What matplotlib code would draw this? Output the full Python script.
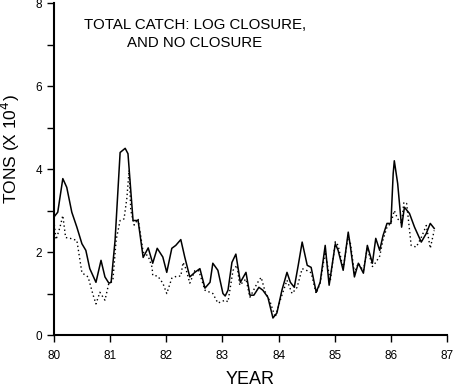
import matplotlib
matplotlib.use("Agg")
import matplotlib.pyplot as plt
from matplotlib.ticker import MultipleLocator

plt.rcParams['font.family'] = ['Liberation Sans', 'DejaVu Sans']

# Total catch with log closure (solid line)
log_years = [80.00, 80.07, 80.16, 80.23, 80.32, 80.41, 80.50, 80.57, 80.64, 80.75,
             80.84, 80.91, 80.98, 81.02, 81.09, 81.18, 81.27, 81.32, 81.41, 81.50,
             81.59, 81.68, 81.76, 81.84, 81.94, 82.01, 82.10, 82.17, 82.26, 82.33,
             82.42, 82.51, 82.60, 82.69, 82.78, 82.83, 82.92, 83.01, 83.05, 83.10,
             83.17, 83.24, 83.32, 83.42, 83.49, 83.56, 83.65, 83.72, 83.81, 83.90,
             83.97, 84.06, 84.15, 84.21, 84.28, 84.35, 84.42, 84.51, 84.58, 84.67,
             84.74, 84.83, 84.90, 85.01, 85.06, 85.15, 85.24, 85.28, 85.35, 85.42,
             85.51, 85.58, 85.67, 85.73, 85.80, 85.86, 85.93, 86.00, 86.04, 86.06,
             86.12, 86.19, 86.24, 86.33, 86.42, 86.54, 86.63, 86.70, 86.77]
log_tons = [2.84, 2.96, 3.77, 3.56, 2.96, 2.60, 2.20, 2.04, 1.60, 1.27,
            1.80, 1.40, 1.25, 1.27, 2.28, 4.40, 4.50, 4.37, 2.76, 2.76,
            1.87, 2.10, 1.73, 2.09, 1.88, 1.51, 2.09, 2.16, 2.30, 1.88,
            1.40, 1.51, 1.60, 1.13, 1.27, 1.73, 1.56, 1.00, 0.94, 1.08,
            1.75, 1.95, 1.27, 1.51, 0.96, 0.96, 1.15, 1.08, 0.91, 0.41,
            0.53, 1.08, 1.51, 1.27, 1.15, 1.68, 2.24, 1.68, 1.63, 1.03,
            1.27, 2.16, 1.20, 2.20, 2.04, 1.56, 2.48, 2.12, 1.40, 1.73,
            1.49, 2.16, 1.73, 2.33, 2.04, 2.40, 2.69, 2.69, 3.89, 4.20,
            3.65, 2.60, 3.08, 2.93, 2.60, 2.24, 2.45, 2.69, 2.57]

# Total catch with no closure (dotted line)
no_years = [80.00, 80.04, 80.11, 80.16, 80.21, 80.29, 80.41, 80.50, 80.61, 80.70,
            80.75, 80.82, 80.91, 80.98, 81.05, 81.11, 81.18, 81.25, 81.30, 81.34,
            81.37, 81.43, 81.50, 81.59, 81.68, 81.75, 81.76, 81.85, 81.94, 82.01,
            82.10, 82.19, 82.26, 82.30, 82.35, 82.42, 82.51, 82.58, 82.69, 82.83,
            82.92, 83.05, 83.10, 83.19, 83.26, 83.31, 83.42, 83.49, 83.62, 83.69,
            83.76, 83.85, 83.94, 84.03, 84.15, 84.24, 84.33, 84.42, 84.51, 84.58,
            84.67, 84.74, 84.83, 84.92, 85.01, 85.06, 85.15, 85.24, 85.28, 85.35,
            85.42, 85.51, 85.58, 85.67, 85.73, 85.80, 85.86, 85.93, 86.00, 86.06,
            86.12, 86.19, 86.23, 86.28, 86.36, 86.45, 86.54, 86.63, 86.70, 86.77]
no_tons = [2.76, 2.30, 2.60, 2.88, 2.35, 2.33, 2.28, 1.50, 1.40, 0.96,
           0.75, 1.03, 0.84, 1.25, 1.30, 2.30, 2.76, 2.80, 3.30, 3.97,
           3.00, 2.65, 2.80, 2.00, 1.90, 1.63, 1.44, 1.42, 1.25, 1.00,
           1.37, 1.42, 1.42, 1.75, 1.60, 1.25, 1.55, 1.55, 1.08, 1.00,
           0.77, 0.84, 0.80, 1.56, 1.68, 1.20, 1.35, 0.91, 1.25, 1.39,
           1.05, 0.80, 0.43, 0.84, 1.32, 1.00, 1.15, 1.60, 1.55, 1.50,
           1.00, 1.25, 2.00, 1.30, 2.25, 2.16, 1.60, 2.40, 2.20, 1.50,
           1.73, 1.55, 2.10, 1.65, 1.75, 1.90, 2.30, 2.60, 2.70, 3.00,
           2.80, 2.70, 3.20, 3.17, 2.16, 2.12, 2.35, 2.64, 2.09, 2.52]

year_ticks = [80, 81, 82, 83, 84, 85, 86, 87]

fig = plt.figure(figsize=(4.6, 3.9), dpi=100)
ax = fig.add_axes([0.117, 0.141, 0.855, 0.851])

ax.plot(log_years, log_tons, color='black', linewidth=1.1, linestyle='-')
ax.plot(no_years, no_tons, color='black', linewidth=1.0, linestyle=(0, (1, 2)))

ax.set_xlim(80, 87)
ax.set_ylim(0, 8)
ax.set_xticks(year_ticks)
ax.set_xticklabels([str(y) for y in year_ticks])
ax.yaxis.set_major_locator(MultipleLocator(2))
ax.yaxis.set_minor_locator(MultipleLocator(1))
ax.tick_params(axis='both', which='both', direction='out', length=5, width=1,
               labelsize=8.5, colors='black')
ax.tick_params(axis='x', pad=6)

for side in ['top', 'right']:
    ax.spines[side].set_visible(False)
for side in ['left', 'bottom']:
    ax.spines[side].set_linewidth(1.5)

ax.set_xlabel('YEAR', fontsize=13, labelpad=6)
ax.set_ylabel('TONS (X 10$^4$)', fontsize=12.5)
ax.yaxis.set_label_coords(-0.08, 0.56)

ax.text(0.359, 0.955, 'TOTAL CATCH: LOG CLOSURE,\nAND NO CLOSURE',
        transform=ax.transAxes, ha='center', va='top', fontsize=10.8,
        linespacing=1.35)

fig.savefig('out.png', dpi=100)
